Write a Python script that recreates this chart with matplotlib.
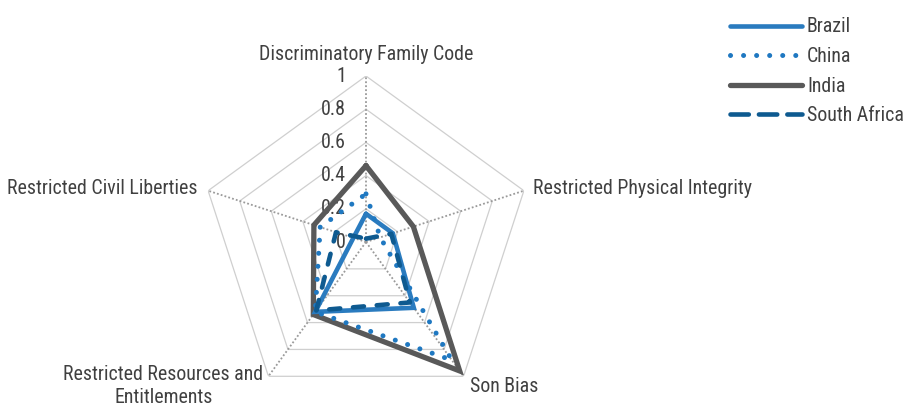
import numpy as np
import matplotlib
matplotlib.use("Agg")
import matplotlib.pyplot as plt
from matplotlib.lines import Line2D
from matplotlib import font_manager

available = {f.name for f in font_manager.fontManager.ttflist}
font_choice = None
for cand, size in [('Roboto Condensed', 14.3), ('Liberation Sans Narrow', 15.0),
                   ('Arial Narrow', 15.0), ('Liberation Sans', 12.5)]:
    if cand in available:
        font_choice, FS = cand, size
        break
if font_choice is None:
    font_choice, FS = 'DejaVu Sans', 11.5
plt.rcParams['font.family'] = [font_choice, 'DejaVu Sans']

categories = ["Discriminatory Family Code", "Restricted Physical Integrity", "Son Bias",
              "Restricted Resources and\nEntitlements", "Restricted Civil Liberties"]
series_names = ["Brazil", "China", "India", "South Africa"]
brazil = [0.17, 0.17, 0.49, 0.52, 0.08]
china = [0.29, 0.09, 0.88, 0.52, 0.29]
india = [0.46, 0.30, 0.96, 0.54, 0.33]
south_africa = [0.02, 0.16, 0.45, 0.51, 0.19]
ring_values = [0.2, 0.4, 0.6, 0.8, 1.0]
tick_values = [0, 0.2, 0.4, 0.6, 0.8, 1]
tick_labels = ["0", "0.2", "0.4", "0.6", "0.8", "1"]

W, H = 904, 407
fig = plt.figure(figsize=(W / 100, H / 100), dpi=100)
cx, cy, R = 366, 242, 166
ax = fig.add_axes([(cx - R) / W, (H - cy - R) / H, 2 * R / W, 2 * R / H], projection='polar')
ax.set_theta_offset(np.pi / 2)
ax.set_theta_direction(-1)
ax.set_ylim(0, 1)
ax.grid(False)
ax.set_xticks([])
ax.set_yticks([])
ax.spines['polar'].set_visible(False)
ax.patch.set_alpha(0)

n = len(categories)
theta = np.arange(n) * 2 * np.pi / n
theta_c = np.append(theta, theta[0])

# rings
for rv in ring_values:
    ax.plot(theta_c, [rv] * (n + 1), color='#cfcfcf', lw=0.9, zorder=1)
# spokes
for t in theta:
    ax.plot([t, t], [0, 1], color='#9a9a9a', lw=1.3, ls=(0, (1, 1.2)), zorder=1)

text_color = '#404040'
# tick labels
for tv, tl in zip(tick_values, tick_labels):
    ax.annotate(tl, xy=(0, tv), xytext=(-20, 0), textcoords='offset pixels',
                ha='right', va='center', fontsize=FS, color=text_color, zorder=2)

# category labels
offsets = [(0, 16), (9, 2), (6, -10), (-5, 11), (-11, 2)]
aligns = [('center', 'baseline'), ('left', 'center'), ('left', 'center'), ('right', 'top'), ('right', 'center')]
for t, lab, off, (ha, va) in zip(theta, categories, offsets, aligns):
    ax.annotate(lab, xy=(t, 1), xytext=off, textcoords='offset pixels', ha=ha, va=va,
                multialignment='center', fontsize=FS, color=text_color, linespacing=1.22)

lw = 3.3
styles = {
    "Brazil": dict(color='#2a7bbf', ls='-', lw=lw),
    "China": dict(color='#1f78c1', ls=(0, (0.01, 2.6)), lw=lw + 0.3, dash_capstyle='round'),
    "India": dict(color='#595959', ls='-', lw=lw + 0.5),
    "South Africa": dict(color='#0e5a90', ls=(0, (2.4, 2.8)), lw=lw, dash_capstyle='round'),
}
legend_ls = {"South Africa": (0, (4.0, 2.2))}
data = {"Brazil": brazil, "China": china, "India": india, "South Africa": south_africa}
zorders = {"India": 3, "Brazil": 4, "China": 5, "South Africa": 6}
handles = []
for name in series_names:
    vals = data[name]
    st = styles[name]
    ax.plot(theta_c, vals + [vals[0]], zorder=zorders[name], solid_joinstyle='miter',
            solid_capstyle='round', **st)
    hst = dict(st)
    if name in legend_ls:
        hst['ls'] = legend_ls[name]
    handles.append(Line2D([0], [0], **hst, solid_capstyle='round'))

fs_px = FS * 100 / 72
fig.legend(handles, series_names, loc='upper left', bbox_to_anchor=(730 / W, 1 - 17.5 / H),
           frameon=False, fontsize=FS, handlelength=72 / fs_px, handletextpad=5 / fs_px,
           labelspacing=0.53, borderpad=0, borderaxespad=0,
           labelcolor=text_color)

fig.savefig('out.png', dpi=100)
